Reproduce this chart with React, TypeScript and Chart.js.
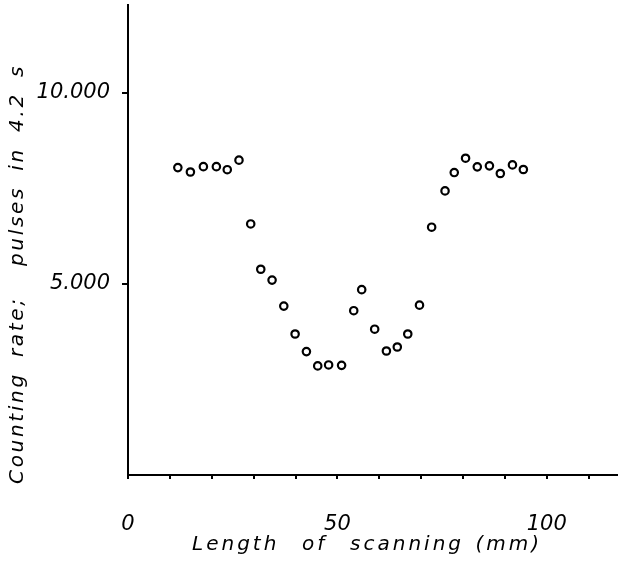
import React, { useEffect, useRef } from "react";
import { Chart, registerables } from "chart.js";

Chart.register(...registerables);

const scanLengthMm = [11.9, 14.9, 18.0, 21.1, 23.7, 26.5, 29.3, 31.7, 34.4, 37.2, 39.9, 42.6, 45.3, 47.9, 51.0, 53.9, 55.8, 58.9, 61.7, 64.3, 66.8, 69.6, 72.5, 75.7, 77.9, 80.6, 83.4, 86.3, 88.9, 91.8, 94.4];
const countingRate = [8045, 7930, 8070, 8070, 7990, 8240, 6570, 5385, 5100, 4420, 3690, 3230, 2855, 2880, 2870, 4300, 4850, 3815, 3245, 3350, 3690, 4445, 6485, 7435, 7915, 8290, 8065, 8090, 7890, 8115, 7995];

const xTickValues = [0, 10, 20, 30, 40, 50, 60, 70, 80, 90, 100, 110];
const xLabelledTicks = [0, 50, 100];
const yTickValues = [5000, 10000];
const yTickLabels = ["5.000", "10.000"];

const xTitle = "Length  of  scanning (mm)";
const yTitle = "Counting rate;  pulses in 4.2 s";

const FONT = "'DejaVu Sans', sans-serif";

export default function App() {
  const ref = useRef<HTMLCanvasElement | null>(null);

  useEffect(() => {
    if (!ref.current) return;
    const titlePlugin = {
      id: "axisTitles",
      afterDraw(chart: any) {
        const ctx = chart.ctx as CanvasRenderingContext2D;
        const ca = chart.chartArea;
        ctx.save();
        ctx.fillStyle = "#000";
        ctx.font = `italic 20px ${FONT}`;
        ctx.textAlign = "center";
        ctx.textBaseline = "middle";
        (ctx as any).letterSpacing = "3px";
        (ctx as any).wordSpacing = "2px";
        ctx.fillText(xTitle, (ca.left + ca.right) / 2 - 6, 545);
        (ctx as any).letterSpacing = "2.7px";
        (ctx as any).wordSpacing = "6px";
        ctx.translate(18, 274);
        ctx.rotate(-Math.PI / 2);
        ctx.fillText(yTitle, 0, 0);
        ctx.restore();
      },
    };

    const chart = new Chart(ref.current, {
      type: "scatter",
      data: {
        datasets: [
          {
            data: scanLengthMm.map((x, i) => ({ x, y: countingRate[i] })),
            pointRadius: 3.7,
            pointBorderWidth: 2.2,
            pointBorderColor: "#000",
            pointBackgroundColor: "#fff",
            showLine: false,
          },
        ],
      },
      options: {
        animation: false,
        responsive: true,
        maintainAspectRatio: false,
        layout: { autoPadding: false, padding: { top: 5, left: 0, right: 0, bottom: 0 } },
        plugins: { legend: { display: false }, tooltip: { enabled: false } },
        scales: {
          x: {
            type: "linear",
            min: 0,
            max: 117,
            afterBuildTicks: (axis: any) => {
              axis.ticks = xTickValues.map((v) => ({ value: v }));
            },
            afterFit: (scale: any) => {
              scale.height = 89;
              scale.paddingLeft = 0;
              scale.paddingRight = 0;
              scale.paddingTop = 0;
              scale.paddingBottom = 0;
            },
            border: { display: true, color: "#000", width: 2 },
            grid: {
              drawOnChartArea: false,
              drawTicks: true,
              tickLength: 4,
              color: "#000",
              lineWidth: 2,
            },
            ticks: {
              color: "#000",
              padding: 33,
              maxRotation: 0,
              autoSkip: false,
              font: { family: FONT, style: "italic", size: 21 },
              callback: (v: any) => (xLabelledTicks.includes(Number(v)) ? String(v) : ""),
            },
          },
          y: {
            type: "linear",
            min: 0,
            max: 12300,
            afterBuildTicks: (axis: any) => {
              axis.ticks = yTickValues.map((v) => ({ value: v }));
            },
            afterFit: (scale: any) => {
              scale.width = 128;
              scale.paddingLeft = 0;
              scale.paddingRight = 0;
              scale.paddingTop = 0;
              scale.paddingBottom = 0;
            },
            border: { display: true, color: "#000", width: 2 },
            grid: {
              drawOnChartArea: false,
              drawTicks: true,
              tickLength: 6,
              color: "#000",
              lineWidth: 2,
            },
            ticks: {
              color: "#000",
              padding: 12,
              autoSkip: false,
              font: { family: FONT, style: "italic", size: 21 },
              callback: (v: any) => {
                const i = yTickValues.indexOf(Number(v));
                return i >= 0 ? yTickLabels[i] : "";
              },
            },
          },
        },
      },
      plugins: [titlePlugin],
    });
    return () => chart.destroy();
  }, []);

  return (
    <div style={{ position: "fixed", left: 0, top: 0, width: 618, height: 564, background: "#fff" }}>
      <canvas ref={ref} style={{ width: "100%", height: "100%" }} />
    </div>
  );
}
